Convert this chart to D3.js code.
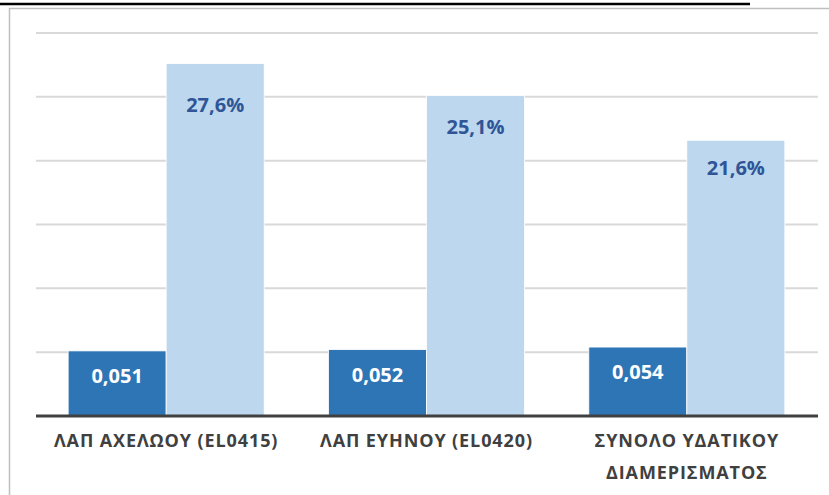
<!DOCTYPE html>
<html><head><meta charset="utf-8">
<script src="https://cdn.jsdelivr.net/npm/d3@7/dist/d3.min.js"></script>
<style>body{margin:0;background:#fff;overflow:hidden}</style></head>
<body><svg id="c" width="829" height="495"></svg>
<script>
const categories = ["ΛΑΠ ΑΧΕΛΩΟΥ (EL0415)", "ΛΑΠ ΕΥΗΝΟΥ (EL0420)", "ΣΥΝΟΛΟ ΥΔΑΤΙΚΟΥ ΔΙΑΜΕΡΙΣΜΑΤΟΣ"];
const seriesNames = ["s1", "s2"];
const series1 = [0.051, 0.052, 0.054];
const series2 = [0.276, 0.251, 0.216];
const yTicks = [0, 0.05, 0.10, 0.15, 0.20, 0.25, 0.30];

const colors = {s1: "#2E75B6", s2: "#BDD7EE"};
const labelColors = {s1: "#FFFFFF", s2: "#2F5597"};
const labelDy = {s1: [32, 32, 32], s2: [48, 38, 35]};
const fmt = {
  s1: v => d3.format(".3f")(v).replace(".", ","),
  s2: v => d3.format(".1%")(v).replace(".", ",")
};

const svg = d3.select("#c");
const font = "'Open Sans', 'DejaVu Sans', sans-serif";

// top line (document underline) and chart frame
svg.append("line").attr("x1", 0).attr("x2", 750).attr("y1", 4).attr("y2", 4)
  .attr("stroke", "#000").attr("stroke-width", 2.5);
svg.append("rect").attr("x", 9.5).attr("y", 8.5).attr("width", 840).attr("height", 500)
  .attr("fill", "none").attr("stroke", "#BFBFBF").attr("stroke-width", 1.5);

const x0 = d3.scaleBand().domain(categories).range([36, 817]).paddingInner(0.247).paddingOuter(0.1235);
const x1 = d3.scaleBand().domain(seriesNames).range([0, x0.bandwidth()]).padding(0);
const y = d3.scaleLinear().domain([0, 0.30]).range([416, 33]);

// gridlines
svg.append("g").selectAll("line").data(yTicks.slice(1)).join("line")
  .attr("x1", 36).attr("x2", 818)
  .attr("y1", d => y(d)).attr("y2", d => y(d))
  .attr("stroke", "#D9D9D9").attr("stroke-width", 2);

const data = categories.map((c, i) => ({cat: c, i, vals: [
  {key: "s1", v: series1[i]}, {key: "s2", v: series2[i]}]}));

const g = svg.append("g").selectAll("g").data(data).join("g")
  .attr("transform", d => `translate(${x0(d.cat)},0)`);

g.selectAll("rect").data(d => d.vals.map(v => ({...v, i: d.i}))).join("rect")
  .attr("x", d => x1(d.key)).attr("width", x1.bandwidth())
  .attr("y", d => y(d.v)).attr("height", d => y(0) - y(d.v))
  .attr("fill", d => colors[d.key])
  .attr("stroke", "#fff").attr("stroke-width", 0.8);

g.selectAll("text.val").data(d => d.vals.map(v => ({...v, i: d.i}))).join("text")
  .attr("class", "val")
  .attr("x", d => x1(d.key) + x1.bandwidth() / 2)
  .attr("y", d => y(d.v) + labelDy[d.key][d.i])
  .attr("text-anchor", "middle")
  .attr("font-family", font).attr("font-weight", "bold").attr("font-size", 20)
  .attr("fill", d => labelColors[d.key])
  .text(d => fmt[d.key](d.v));

// baseline axis
svg.append("line").attr("x1", 36).attr("x2", 818).attr("y1", y(0)).attr("y2", y(0))
  .attr("stroke", "#404040").attr("stroke-width", 3);

// category labels
const xAxis = svg.append("g").attr("transform", `translate(0,${y(0)})`)
  .call(d3.axisBottom(x0).tickSize(0).tickPadding(0));
xAxis.select(".domain").remove();
xAxis.selectAll(".tick text").remove();
xAxis.selectAll(".tick").each(function(d) {
  const words = d.split(" ");
  let lines = [d];
  if (d.length > 24) lines = [words.slice(0, 2).join(" "), words.slice(2).join(" ")];
  const t = d3.select(this).append("text")
    .attr("text-anchor", "middle")
    .attr("font-family", font).attr("font-weight", "bold").attr("font-size", 18)
    .attr("letter-spacing", 0.9)
    .attr("fill", "#404040");
  lines.forEach((l, k) => t.append("tspan").attr("x", 0).attr("y", 31 + k * 32).text(l));
});
</script></body></html>
